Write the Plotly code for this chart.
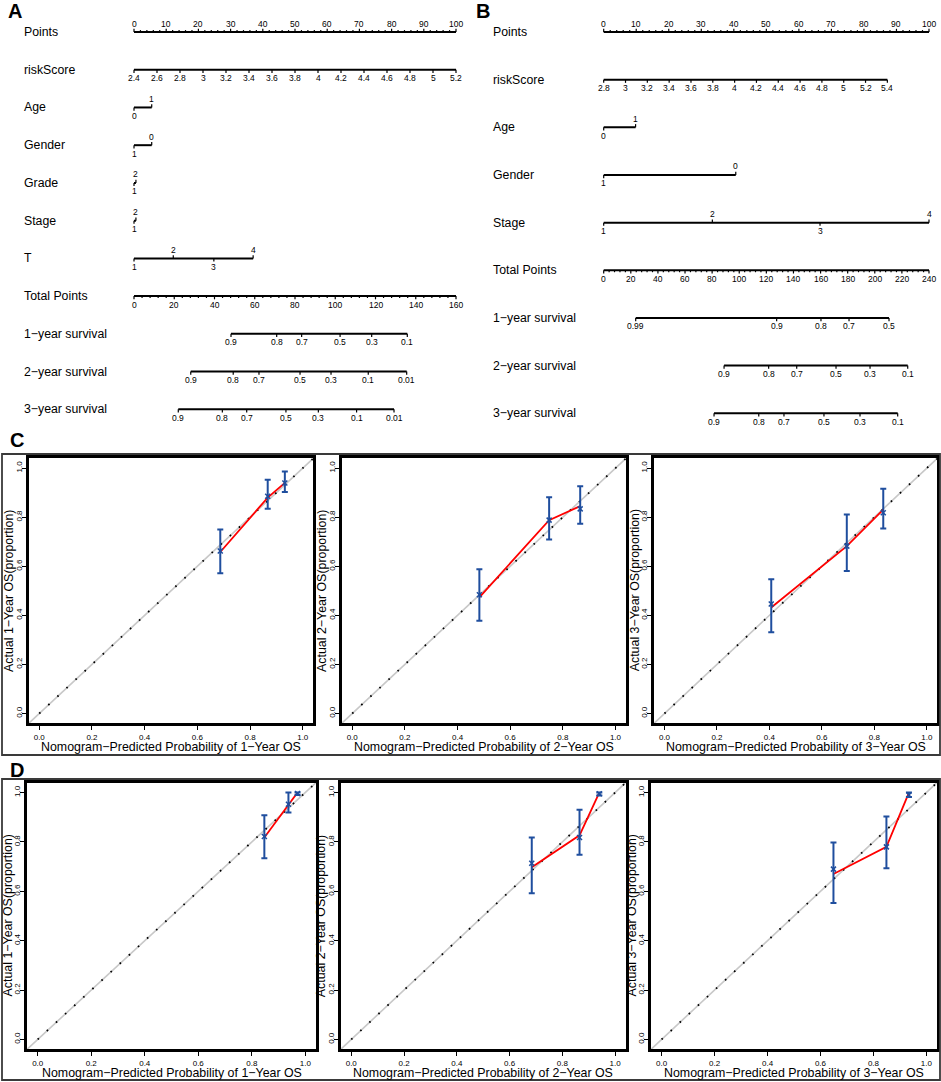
import plotly.graph_objects as go

W, H = 941, 1082
FONT = "Arial, Liberation Sans, DejaVu Sans, sans-serif"
BLUE = "#1f4e9e"

# ---------------- data: nomogram A ----------------
a_points_ticks = [0, 10, 20, 30, 40, 50, 60, 70, 80, 90, 100]
a_risk_ticks = [2.4, 2.6, 2.8, 3, 3.2, 3.4, 3.6, 3.8, 4, 4.2, 4.4, 4.6, 4.8, 5, 5.2]
a_risk_span = [2.4, 5.2]
a_risk_maxpts = 100
a_age_levels = ["0", "1"]
a_age_pts = [0, 5.5]
a_gender_levels = ["1", "0"]
a_gender_pts = [0, 5.5]
a_grade_levels = ["1", "2"]
a_grade_pts = [0, 0.6]
a_stage_levels = ["1", "2"]
a_stage_pts = [0, 0.6]
a_t_levels = ["1", "2", "3", "4"]
a_t_pts = [0, 12.2, 24.8, 37.0]
a_total_max = 160
a_total_ticks = [0, 20, 40, 60, 80, 100, 120, 140, 160]
a_surv1_labels = ["0.9", "0.8", "0.7", "0.5", "0.3", "0.1"]
a_surv1_total = [48.2, 70.9, 83.3, 102.4, 118.1, 135.8]
a_surv2_labels = ["0.9", "0.8", "0.7", "0.5", "0.3", "0.1", "0.01"]
a_surv2_total = [28.2, 49.3, 62.1, 82.5, 97.9, 116.4, 135.5]
a_surv3_labels = ["0.9", "0.8", "0.7", "0.5", "0.3", "0.1", "0.01"]
a_surv3_total = [22.0, 43.9, 56.0, 75.5, 91.6, 110.6, 129.2]

# ---------------- data: nomogram B ----------------
b_points_ticks = [0, 10, 20, 30, 40, 50, 60, 70, 80, 90, 100]
b_risk_ticks = [2.8, 3, 3.2, 3.4, 3.6, 3.8, 4, 4.2, 4.4, 4.6, 4.8, 5, 5.2, 5.4]
b_risk_span = [2.8, 5.4]
b_risk_maxpts = 87.2
b_age_levels = ["0", "1"]
b_age_pts = [0, 9.8]
b_gender_levels = ["1", "0"]
b_gender_pts = [0, 40.6]
b_stage_levels = ["1", "2", "3", "4"]
b_stage_pts = [0, 33.4, 66.5, 100]
b_total_max = 240
b_total_ticks = [0, 20, 40, 60, 80, 100, 120, 140, 160, 180, 200, 220, 240]
b_surv1_labels = ["0.99", "0.9", "0.8", "0.7", "0.5"]
b_surv1_total = [23.6, 127.6, 160.3, 181.0, 210.5]
b_surv2_labels = ["0.9", "0.8", "0.7", "0.5", "0.3", "0.1"]
b_surv2_total = [88.8, 121.7, 142.4, 171.4, 196.5, 224.3]
b_surv3_labels = ["0.9", "0.8", "0.7", "0.5", "0.3", "0.1"]
b_surv3_total = [81.4, 114.4, 133.0, 162.5, 189.1, 216.9]

# ---------------- data: calibration C (training) ----------------
years = ["1", "2", "3"]
ideal = [-0.04, 1.04]
c_pred = [[0.687, 0.867, 0.932], [0.483, 0.748, 0.866], [0.407, 0.695, 0.834]]
c_obs = [[0.662, 0.885, 0.939], [0.484, 0.788, 0.834], [0.446, 0.682, 0.818]]
c_hi = [[0.750, 0.953, 0.986], [0.588, 0.881, 0.926], [0.547, 0.811, 0.916]]
c_lo = [[0.572, 0.834, 0.903], [0.378, 0.709, 0.773], [0.331, 0.581, 0.754]]
c_line = [[0.658, 0.880, 0.940], [0.473, 0.788, 0.845], [0.432, 0.682, 0.831]]

# ---------------- data: calibration D (validation) ----------------
d_pred = [[0.847, 0.937, 0.971], [0.684, 0.865, 0.940], [0.649, 0.849, 0.934]]
d_obs = [[0.822, 0.953, 0.996], [0.714, 0.818, 0.995], [0.690, 0.780, 0.990]]
d_hi = [[0.908, 1.000, 1.000], [0.818, 0.930, 1.000], [0.798, 0.903, 1.000]]
d_lo = [[0.734, 0.919, 0.990], [0.592, 0.748, 0.988], [0.553, 0.693, 0.982]]
d_line = [[0.818, 0.953, 1.000], [0.697, 0.827, 1.000], [0.670, 0.780, 1.000]]

fig = go.Figure()
annotations = []
shapes = []
layout = {}


def ax_name(n, a):
    return a if n == 1 else f"{a}{n}"


def fmt(v):
    return f"{v:g}"


def cont_pos(vals, span, maxpts):
    return [(v - span[0]) / (span[1] - span[0]) * maxpts for v in vals]


def total_pos(vals, tmax):
    return [v / tmax * 100 for v in vals]


def alt(k):
    return [-1 if i % 2 == 0 else 1 for i in range(k)]


def nomogram(n, rows, label_px, tick):
    xr, yr = ax_name(n, "x"), ax_name(n, "y")
    lx, ly, tx, ty = [], [], [], []
    for r, (name, pos, labels, sides, minor) in enumerate(rows):
        annotations.append(dict(text=name, x=label_px / W, xref="paper", y=r, yref=yr,
                                xanchor="left", yanchor="middle", showarrow=False,
                                font=dict(size=12.3, color="black")))
        lx += [min(pos), max(pos), None]
        ly += [r, r, None]
        for p, lab, s in zip(pos, labels, sides):
            tx += [p, p, None]
            ty += [r, r - s * tick, None]
            annotations.append(dict(text=lab, x=p, xref=xr, y=r, yref=yr, yshift=8.5 * s,
                                    xanchor="center", yanchor="middle", showarrow=False,
                                    font=dict(size=8.5, color="black")))
        for p in minor:
            tx += [p, p, None]
            ty += [r, r - sides[0] * tick * 0.6, None]
    fig.add_trace(go.Scatter(x=lx, y=ly, mode="lines", xaxis=xr, yaxis=yr,
                             line=dict(color="black", width=2), hoverinfo="skip"))
    fig.add_trace(go.Scatter(x=tx, y=ty, mode="lines", xaxis=xr, yaxis=yr,
                             line=dict(color="black", width=1.2), hoverinfo="skip"))


def nomo_axes(n, left, right, x0, x100, row0, step):
    ppp = (x100 - x0) / 100
    layout[ax_name(n, "xaxis")] = dict(domain=[left / W, right / W], range=[(left - x0) / ppp, (right - x0) / ppp],
                                       visible=False, anchor=ax_name(n, "y"))
    layout[ax_name(n, "yaxis")] = dict(domain=[1 - 430 / H, 1], range=[(430 - row0) / step, -row0 / step],
                                       visible=False, anchor=ax_name(n, "x"))
    return 3.2 / step


# ---- panel A rows ----
tick_a = nomo_axes(1, 0, 470, 134, 456, 32, 37.73)
rows_a = [
    ("Points", a_points_ticks, [fmt(v) for v in a_points_ticks], [1] * len(a_points_ticks),
     [v for v in range(0, 101, 2) if v % 10]),
    ("riskScore", cont_pos(a_risk_ticks, a_risk_span, a_risk_maxpts), [fmt(v) for v in a_risk_ticks],
     [-1] * len(a_risk_ticks), []),
    ("Age", a_age_pts, a_age_levels, alt(len(a_age_pts)), []),
    ("Gender", a_gender_pts, a_gender_levels, alt(len(a_gender_pts)), []),
    ("Grade", a_grade_pts, a_grade_levels, alt(len(a_grade_pts)), []),
    ("Stage", a_stage_pts, a_stage_levels, alt(len(a_stage_pts)), []),
    ("T", a_t_pts, a_t_levels, alt(len(a_t_pts)), []),
    ("Total Points", total_pos(a_total_ticks, a_total_max), [fmt(v) for v in a_total_ticks],
     [-1] * len(a_total_ticks), total_pos([v for v in range(0, a_total_max + 1, 4) if v % 20], a_total_max)),
    ("1−year survival", total_pos(a_surv1_total, a_total_max), a_surv1_labels, [-1] * len(a_surv1_total), []),
    ("2−year survival", total_pos(a_surv2_total, a_total_max), a_surv2_labels, [-1] * len(a_surv2_total), []),
    ("3−year survival", total_pos(a_surv3_total, a_total_max), a_surv3_labels, [-1] * len(a_surv3_total), []),
]
nomogram(1, rows_a, 22, tick_a)

# ---- panel B rows ----
tick_b = nomo_axes(2, 470, 941, 603.7, 929, 32, 47.66)
rows_b = [
    ("Points", b_points_ticks, [fmt(v) for v in b_points_ticks], [1] * len(b_points_ticks),
     [v for v in range(0, 101, 2) if v % 10]),
    ("riskScore", cont_pos(b_risk_ticks, b_risk_span, b_risk_maxpts), [fmt(v) for v in b_risk_ticks],
     [-1] * len(b_risk_ticks), []),
    ("Age", b_age_pts, b_age_levels, alt(len(b_age_pts)), []),
    ("Gender", b_gender_pts, b_gender_levels, alt(len(b_gender_pts)), []),
    ("Stage", b_stage_pts, b_stage_levels, alt(len(b_stage_pts)), []),
    ("Total Points", total_pos(b_total_ticks, b_total_max), [fmt(v) for v in b_total_ticks],
     [-1] * len(b_total_ticks), total_pos([v for v in range(0, b_total_max + 1, 4) if v % 20], b_total_max)),
    ("1−year survival", total_pos(b_surv1_total, b_total_max), b_surv1_labels, [-1] * len(b_surv1_total), []),
    ("2−year survival", total_pos(b_surv2_total, b_total_max), b_surv2_labels, [-1] * len(b_surv2_total), []),
    ("3−year survival", total_pos(b_surv3_total, b_total_max), b_surv3_labels, [-1] * len(b_surv3_total), []),
]
nomogram(2, rows_b, 490.7, tick_b)

# ---------------- calibration plots ----------------
c_boxes = [(28.7, 313.3), (341.7, 626), (654, 937.3)]
d_boxes = [(27, 316), (340.7, 625.7), (651, 937)]


def calib(n, box_x, top, bottom, yr_label, pred, obs, hi, lo, line):
    xr, yr = ax_name(n, "x"), ax_name(n, "y")
    common = dict(range=ideal, tickvals=[0, 0.2, 0.4, 0.6, 0.8, 1.0], tickformat=".1f",
                  ticks="outside", ticklen=4, tickwidth=1, tickcolor="black",
                  showline=True, mirror=True, linewidth=2.6, linecolor="black",
                  showgrid=False, zeroline=False, tickfont=dict(size=8, color="black"))
    layout[ax_name(n, "xaxis")] = dict(domain=[box_x[0] / W, box_x[1] / W], anchor=yr, **common)
    layout[ax_name(n, "yaxis")] = dict(domain=[1 - bottom / H, 1 - top / H], anchor=xr, tickangle=-90,
                                       ticklabelstandoff=-3, **common)
    fig.add_trace(go.Scatter(x=ideal, y=ideal, mode="lines", xaxis=xr, yaxis=yr,
                             line=dict(color="#c8c8c8", width=1.6), hoverinfo="skip"))
    fig.add_trace(go.Scatter(x=[0, ideal[1]], y=[0, ideal[1]], mode="lines", xaxis=xr, yaxis=yr,
                             line=dict(color="black", width=1.8, dash="1.6px,10.8px"), hoverinfo="skip"))
    fig.add_trace(go.Scatter(x=pred, y=line, mode="lines", xaxis=xr, yaxis=yr,
                             line=dict(color="red", width=1.8), hoverinfo="skip"))
    fig.add_trace(go.Scatter(x=pred, y=obs, mode="markers", xaxis=xr, yaxis=yr,
                             marker=dict(symbol="x-thin", size=5, line=dict(color=BLUE, width=1.5), color=BLUE),
                             error_y=dict(type="data", symmetric=False,
                                          array=[h - o for h, o in zip(hi, obs)],
                                          arrayminus=[o - l for o, l in zip(obs, lo)],
                                          color=BLUE, thickness=2, width=3),
                             hoverinfo="skip"))
    cx = (box_x[0] + box_x[1]) / 2
    annotations.append(dict(text=f"Nomogram−Predicted Probability of {yr_label}−Year OS",
                            x=cx / W, y=1 - (bottom + 23.4) / H, xref="paper", yref="paper",
                            xanchor="center", yanchor="middle", showarrow=False,
                            font=dict(size=12.4, color="black")))
    annotations.append(dict(text=f"Actual {yr_label}−Year OS(proportion)", textangle=-90,
                            x=(box_x[0] - 19.5) / W, y=1 - (top + bottom) / 2 / H, xref="paper", yref="paper",
                            xanchor="center", yanchor="middle", showarrow=False,
                            font=dict(size=12.4, color="black")))


for i in range(3):
    calib(3 + i, c_boxes[i], 458.3, 723.3, years[i], c_pred[i], c_obs[i], c_hi[i], c_lo[i], c_line[i])
    calib(6 + i, d_boxes[i], 782.7, 1049.3, years[i], d_pred[i], d_obs[i], d_hi[i], d_lo[i], d_line[i])

# outer frames around C and D
for top, bottom in [(454, 755), (779, 1080)]:
    shapes.append(dict(type="rect", xref="paper", yref="paper", x0=2 / W, x1=940 / W,
                       y0=1 - bottom / H, y1=1 - top / H, line=dict(color="#3a3a3a", width=1.8)))

# panel letters
for letter, px, py in [("A", 15.5, 11), ("B", 483.5, 11), ("C", 16.5, 440), ("D", 16.5, 770)]:
    annotations.append(dict(text=f"<b>{letter}</b>", x=px / W, y=1 - py / H, xref="paper", yref="paper",
                            xanchor="center", yanchor="middle", showarrow=False,
                            font=dict(size=20, color="black")))

fig.update_layout(
    width=W, height=H, margin=dict(l=0, r=0, t=0, b=0),
    paper_bgcolor="white", plot_bgcolor="white", showlegend=False,
    font=dict(family=FONT, color="black"),
    annotations=annotations, shapes=shapes, **layout,
)

fig.write_html("out.html", config={"displayModeBar": False},
               post_script="document.body.style.margin='0';document.body.style.overflow='hidden';")
